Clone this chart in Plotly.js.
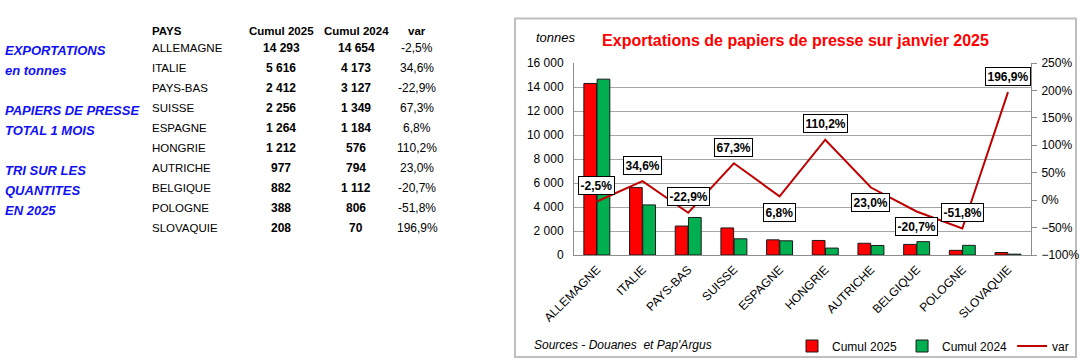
<!DOCTYPE html>
<html>
<head>
<meta charset="utf-8">
<script src="https://cdn.plot.ly/plotly-3.0.1.min.js"></script>
<style>html,body{margin:0;padding:0;background:#fff;}#chart{width:1082px;height:361px;}</style>
</head>
<body>
<div id="chart"></div>
<script>
// ---- data ----
const countries = ['ALLEMAGNE','ITALIE','PAYS-BAS','SUISSE','ESPAGNE','HONGRIE','AUTRICHE','BELGIQUE','POLOGNE','SLOVAQUIE'];
const cumul2025 = [14293, 5616, 2412, 2256, 1264, 1212, 977, 882, 388, 208];
const cumul2024 = [14654, 4173, 3127, 1349, 1184, 576, 794, 1112, 806, 70];
const variation = [-2.5, 34.6, -22.9, 67.3, 6.8, 110.2, 23.0, -20.7, -51.8, 196.9];
const tableHeaders = ['PAYS', 'Cumul 2025', 'Cumul 2024', 'var'];
const leftNotes = ['EXPORTATIONS', 'en tonnes', 'PAPIERS DE PRESSE', 'TOTAL 1 MOIS', 'TRI SUR LES', 'QUANTITES', 'EN 2025'];
const chartTitle = 'Exportations de papiers de presse sur janvier 2025';
const unitLabel = 'tonnes';
const sourceText = "Sources - Douanes  et Pap'Argus";

// ---- layout helpers (positions/styles) ----
const W = 1082, H = 361;
const px = x => x / W;
const py = y => 1 - y / H;
const labelShift = [16, 16, 16, 16, -16, 16, -15, -15, 16, 16];
const noteRows = [0, 1, 3, 4, 6, 7, 8];
const rowY = i => 48.5 + 19.95 * i;

const fmtInt = n => String(n).replace(/\B(?=(\d{3})+(?!\d))/g, ' ');
const fmtPct = v => v.toFixed(1).replace('.', ',') + '%';

const FONT = 'Liberation Sans, Arial, sans-serif';
const annotations = [];

// left blue notes
leftNotes.forEach((t, k) => {
  annotations.push({xref:'paper', yref:'paper', x:px(3), y:py(rowY(noteRows[k]) + 2.5),
    xanchor:'left', yanchor:'middle', showarrow:false, text:t,
    font:{family:FONT, size:13, color:'#1010f8', weight:700, style:'italic'}});
});

// table headers
const colX = [150, 281, 356, 417];
tableHeaders.forEach((t, j) => {
  annotations.push({xref:'paper', yref:'paper', x:px(colX[j]), y:py(31.5),
    xanchor: j === 0 ? 'left' : 'center', yanchor:'middle', showarrow:false, text:t,
    font:{family:FONT, size:11.5, color:'#000', weight:700}});
});
// table rows
countries.forEach((c, i) => {
  const y = py(rowY(i));
  annotations.push({xref:'paper', yref:'paper', x:px(colX[0]), y:y, xanchor:'left', yanchor:'middle',
    showarrow:false, text:c, font:{family:FONT, size:11.5, color:'#000'}});
  annotations.push({xref:'paper', yref:'paper', x:px(colX[1]), y:y, xanchor:'center', yanchor:'middle',
    showarrow:false, text:fmtInt(cumul2025[i]), font:{family:FONT, size:12, color:'#000', weight:700}});
  annotations.push({xref:'paper', yref:'paper', x:px(colX[2]), y:y, xanchor:'center', yanchor:'middle',
    showarrow:false, text:fmtInt(cumul2024[i]), font:{family:FONT, size:12, color:'#000', weight:700}});
  annotations.push({xref:'paper', yref:'paper', x:px(colX[3]), y:y, xanchor:'center', yanchor:'middle',
    showarrow:false, text:fmtPct(variation[i]), font:{family:FONT, size:12, color:'#000'}});
});

// var data labels
countries.forEach((c, i) => {
  annotations.push({xref:'x', yref:'y2', x:c, y:variation[i], yshift:labelShift[i],
    xanchor:'center', yanchor:'middle', showarrow:false, text:fmtPct(variation[i]),
    bgcolor:'#ffffff', bordercolor:'#000000', borderwidth:1, borderpad:1.5,
    font:{family:FONT, size:12, color:'#000', weight:700}});
});

// unit label and sources
annotations.push({xref:'paper', yref:'paper', x:px(556), y:py(37), xanchor:'center', yanchor:'middle',
  showarrow:false, text:unitLabel, font:{family:FONT, size:13, color:'#000', style:'italic'}});
annotations.push({xref:'paper', yref:'paper', x:px(532), y:py(345), xanchor:'left', yanchor:'middle',
  showarrow:false, text:sourceText, font:{family:FONT, size:12, color:'#000', style:'italic'}});

const traces = [
  {type:'bar', name:'Cumul 2025', x:countries, y:cumul2025, xaxis:'x', yaxis:'y',
   marker:{color:'#ff0000', line:{color:'#1a1a1a', width:1}}, hoverinfo:'skip'},
  {type:'bar', name:'Cumul 2024', x:countries, y:cumul2024, xaxis:'x', yaxis:'y',
   marker:{color:'#00b050', line:{color:'#1a1a1a', width:1}}, hoverinfo:'skip'},
  {type:'scatter', mode:'lines', name:'var', x:countries, y:variation, xaxis:'x', yaxis:'y2',
   line:{color:'#c00000', width:2}, hoverinfo:'skip'}
];

const layout = {
  width:W, height:H,
  margin:{l:0, r:0, t:0, b:0, pad:0},
  paper_bgcolor:'#ffffff', plot_bgcolor:'#ffffff',
  separators:', ',
  font:{family:FONT, size:12, color:'#000'},
  showlegend:true,
  title:{text:chartTitle, x:px(795.5), y:py(40), xref:'paper', yref:'paper', xanchor:'center', yanchor:'middle',
         font:{family:FONT, size:16, color:'#ff0000', weight:700}},
  barmode:'group', bargap:0.42, bargroupgap:0.04,
  xaxis:{domain:[px(574), px(1031)], type:'category', anchor:'y', tickangle:-45,
         showline:true, linecolor:'#8c8c8c', linewidth:1, ticks:'', showgrid:false, ticklabelstandoff:2,
         tickfont:{family:FONT, size:12, color:'#000'}, fixedrange:true, automargin:false},
  yaxis:{domain:[py(255), py(63)], range:[0, 16000], dtick:2000, tickformat:',d', anchor:'x',
         showgrid:true, gridcolor:'#a6a6a6', gridwidth:1, zeroline:false,
         showline:true, linecolor:'#8c8c8c', linewidth:1, ticks:'', ticklabelstandoff:7,
         tickfont:{family:FONT, size:12, color:'#000'}, fixedrange:true, automargin:false},
  yaxis2:{overlaying:'y', side:'right', anchor:'x', range:[-100, 250], dtick:50, ticksuffix:'%',
          showgrid:false, zeroline:false, showline:true, linecolor:'#8c8c8c', linewidth:1,
          ticks:'outside', ticklen:5, tickcolor:'#8c8c8c', ticklabelstandoff:2,
          tickfont:{family:FONT, size:12, color:'#000'}, fixedrange:true, automargin:false},
  legend:{orientation:'h', x:px(1074), xanchor:'right', y:py(346), yanchor:'middle',
          bgcolor:'rgba(0,0,0,0)', font:{family:FONT, size:12, color:'#000'},
          itemwidth:30, traceorder:'normal'},
  shapes:[{type:'rect', xref:'paper', yref:'paper', x0:px(515), x1:px(1076), y0:py(357), y1:py(18.5),
           line:{color:'#bfbfbf', width:2}, fillcolor:'rgba(0,0,0,0)', layer:'below'}],
  annotations:annotations
};

Plotly.newPlot('chart', traces, layout, {displayModeBar:false, staticPlot:true});
</script>
</body>
</html>
